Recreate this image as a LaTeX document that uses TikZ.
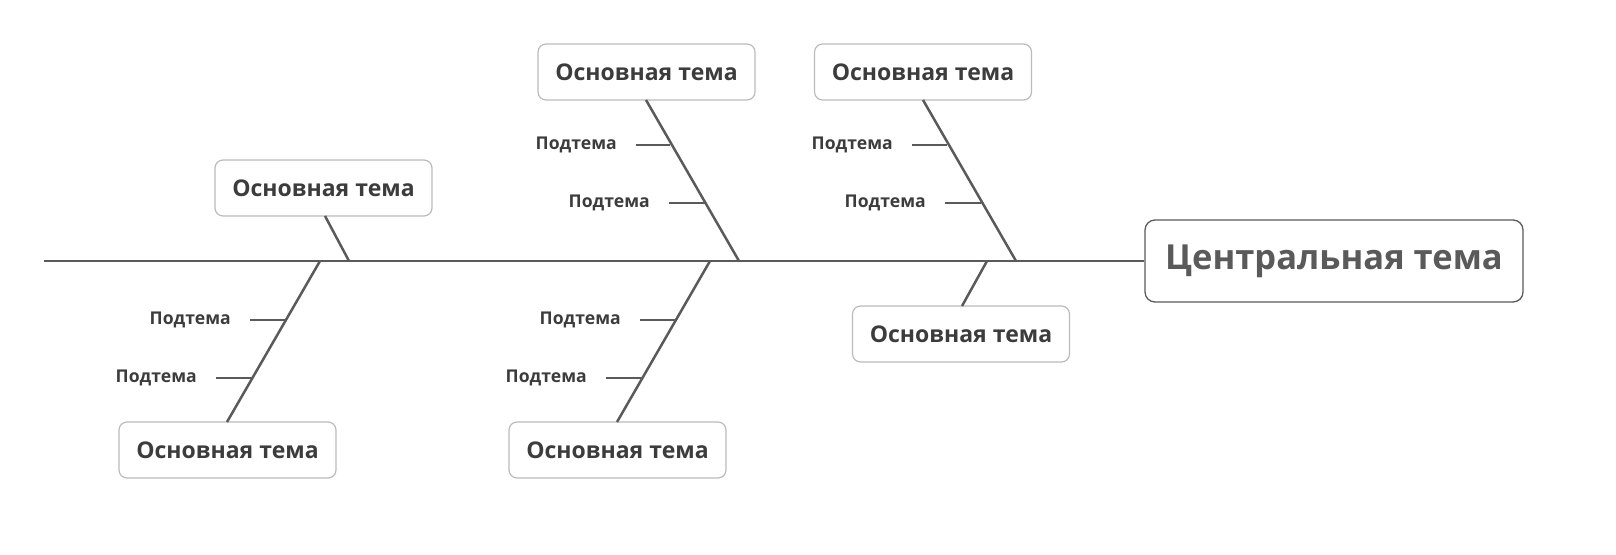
\documentclass[tikz,border=0pt]{standalone}
\usepackage{fontspec}
\setmainfont{Open Sans}
\definecolor{ln}{HTML}{5A5A5A}
\definecolor{bx}{HTML}{BBBBBB}
\definecolor{tx}{HTML}{3C3C3C}
\begin{document}
\begin{tikzpicture}[x=1pt,y=-1pt,
  main/.style={draw=bx,line width=1.2pt,rounded corners=8pt,fill=white,minimum width=217pt,minimum height=56pt,font=\bfseries\fontsize{23}{27}\selectfont,text=tx,inner sep=0pt},
  cent/.style={draw=ln,line width=1.3pt,rounded corners=10pt,fill=white,minimum width=378pt,minimum height=82pt,font=\bfseries\fontsize{34.5}{40}\selectfont,text=ln,inner sep=0pt},
  sub/.style={font=\bfseries\fontsize{17.6}{20}\selectfont,text=tx,anchor=east,inner sep=0pt},
  bone/.style={draw=ln,line width=2.5pt}]
\useasboundingbox (0,0) rectangle (1616,554);
\node[cent] (c) at (1334,261) {Центральная тема};
\coordinate (s0) at (44,261);
\draw[bone] (s0) -- (c.west);
\node[main] (t1) at (646.5,72) {Основная тема};
\node[main] (t2) at (923,72) {Основная тема};
\node[main] (t3) at (323.5,188) {Основная тема};
\node[main] (b1) at (961,334) {Основная тема};
\node[main] (b2) at (227.5,450) {Основная тема};
\node[main] (b3) at (617.5,450) {Основная тема};
\coordinate (j1) at (739,261); \coordinate (j2) at (1016,261);
\coordinate (j3) at (349,261); \coordinate (j4) at (987,261);
\coordinate (j5) at (320,261); \coordinate (j6) at (710,261);
\draw[bone] (646,100) -- (j1);
\draw[bone] (923,100) -- (j2);
\draw[bone] (325,216) -- (j3);
\draw[bone] (962,306) -- (j4);
\draw[bone] (227,422) -- (j5);
\draw[bone] (617,422) -- (j6);
\foreach \a/\b/\y/\n in {636/670/145/a1,669/705/203/a2,912/947/145/a3,945/981/203/a4,250/286/320/a5,216/252/378/a6,640/676/320/a7,606/642/378/a8}{
  \coordinate (\n s) at (\a,\y); \coordinate (\n e) at (\b,\y);
  \draw[bone] (\n s) -- (\n e);
  \node[sub] (\n l) at ([xshift=-19pt]\n s) {Подтема};
}
\end{tikzpicture}
\end{document}
